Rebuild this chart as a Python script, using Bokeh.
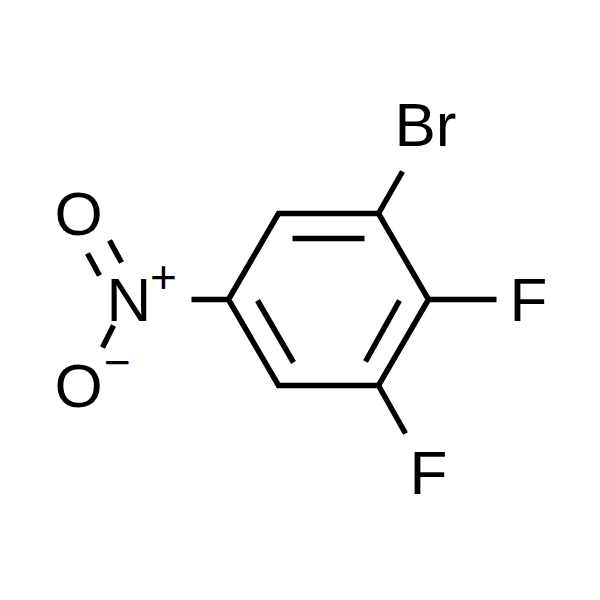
from bokeh.plotting import figure
from bokeh.models import Range1d
from bokeh.core.properties import value
from bokeh.embed import file_html
from bokeh.resources import INLINE

# ring outline (closed)
ring_x = [228, 278, 378, 428, 378, 278, 228]
ring_y = [299, 213, 213, 299, 385, 385, 299]

# inner double bonds and substituent bonds
bond_xs = [[292, 364], [257, 293], [399, 365],
           [428, 496], [378, 402], [378, 405],
           [228, 191], [87, 99], [109, 121], [113, 102]]
bond_ys = [[238, 238], [300, 362], [300, 361],
           [299, 299], [213, 171], [385, 433],
           [299, 299], [253, 275], [240, 262], [325, 347]]

# atom labels
atom_text = ["Br", "F", "F", "O", "O", "N"]
atom_x = [394, 509, 409, 54, 54, 106]
atom_y = [124, 299, 472, 212.5, 384.5, 299]

# charges
charge_text = ["+", "\u2212"]
charge_x = [149.6, 103.6]
charge_y = [276, 361]

p = figure(width=584, height=584, output_backend="svg", toolbar_location=None,
           x_range=Range1d(0, 584), y_range=Range1d(584, 0), min_border=0)
p.axis.visible = False
p.grid.visible = False
p.outline_line_color = None
p.background_fill_color = "white"

p.line(ring_x, ring_y, line_color="black", line_width=5.5, line_join="miter")
p.multi_line(bond_xs, bond_ys, line_color="black", line_width=5.5, line_cap="butt")
p.text(atom_x, atom_y, text=atom_text, text_font=value("Liberation Sans"),
       text_font_size="62px", text_color="black", text_align="left",
       text_baseline="middle")
p.text(charge_x, charge_y, text=charge_text, text_font=value("Liberation Sans"),
       text_font_size="46px", text_color="black", text_align="left",
       text_baseline="middle")

open("out.html", "w").write(file_html(p, INLINE))
